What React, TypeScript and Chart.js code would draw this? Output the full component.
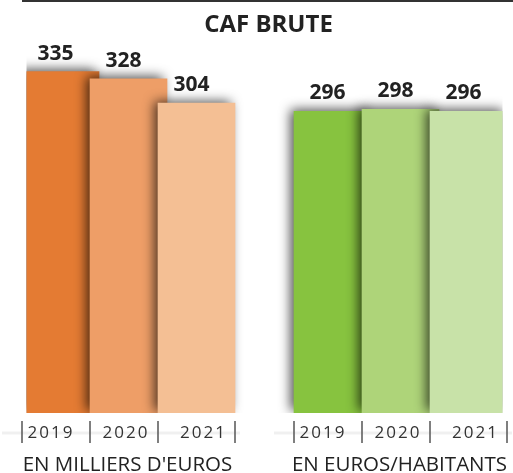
import React, { useEffect, useRef } from "react";
import { Chart, registerables } from "chart.js";

Chart.register(...registerables);

const title = "CAF BRUTE";
const years = ["2019", "2020", "2021"];
const milliersValues = [335, 328, 304];
const habitantsValues = [296, 298, 296];
const groupLabels = ["EN MILLIERS D'EUROS", "EN EUROS/HABITANTS"];
const orangeColors = ["#E47B33", "#EE9E67", "#F4BF94"];
const greenColors = ["#87C33F", "#AED479", "#C8E2A8"];

const FONT = "'Open Sans', 'DejaVu Sans', sans-serif";

const overlay = {
  id: "overlay",
  beforeDatasetsDraw(chart: any) {
    const ctx = chart.ctx;
    ctx.save();
    ctx.shadowColor = "rgba(0,0,0,0.7)";
    ctx.shadowBlur = 11;
    ctx.shadowOffsetX = -4;
    ctx.shadowOffsetY = -2;
  },
  afterDatasetsDraw(chart: any) {
    const ctx = chart.ctx;
    ctx.restore();
    const meta = chart.getDatasetMeta(0);
    const els = meta.data;
    const data = chart.data.datasets[0].data;
    ctx.save();
    // top rule
    ctx.strokeStyle = "#333";
    ctx.lineWidth = 2;
    ctx.beginPath();
    ctx.moveTo(22, 1);
    ctx.lineTo(513, 1);
    ctx.stroke();

    const left0 = els[0].x - els[0].width / 2;
    const rightN = els[els.length - 1].x + els[els.length - 1].width / 2;
    ctx.fillStyle = "#222";
    ctx.font = `bold 24px ${FONT}`;
    ctx.textAlign = "center";
    ctx.textBaseline = "alphabetic";
    ctx.fillText(title, (left0 + rightN) / 2 + 4, 32);

    // value labels
    ctx.font = `bold 21px ${FONT}`;
    els.forEach((el: any, i: number) => {
      const v = data[i];
      if (v == null) return;
      ctx.fillText(String(v), el.x - 5, el.y - 12);
    });

    // groups
    const groups = [
      [0, 1, 2],
      [4, 5, 6],
    ];
    const bottom = chart.chartArea.bottom;
    groups.forEach((g, gi) => {
      const a = els[g[0]];
      const b = els[g[2]];
      const gl = a.x - a.width / 2;
      const gr = b.x + b.width / 2;
      // faint line
      ctx.strokeStyle = "rgba(0,0,0,0.06)";
      ctx.lineWidth = 3;
      ctx.beginPath();
      ctx.moveTo(gl - 20, bottom + 20);
      ctx.lineTo(gr + 5, bottom + 20);
      ctx.stroke();
      // separators
      ctx.strokeStyle = "#555";
      ctx.lineWidth = 1.5;
      const seps = g.map((idx) => els[idx].x - els[idx].width / 2).concat([gr]);
      seps.forEach((sx) => {
        ctx.beginPath();
        ctx.moveTo(sx, bottom + 8);
        ctx.lineTo(sx, bottom + 30);
        ctx.stroke();
      });
      // year labels
      ctx.fillStyle = "#333";
      ctx.font = `17px ${FONT}`;
      (ctx as any).letterSpacing = "2px";
      ctx.textAlign = "center";
      const offs = [-5, 2, 7];
      g.forEach((idx, k) => {
        const mid = (seps[k] + seps[k + 1]) / 2;
        ctx.fillText(chart.data.labels[idx], mid + offs[k], bottom + 25);
      });
      (ctx as any).letterSpacing = "0px";
      // group label
      ctx.fillStyle = "#222";
      ctx.font = `20.5px ${FONT}`;
      ctx.fillText(groupLabels[gi], (gl + gr) / 2 - 1, bottom + 58);
    });
    ctx.restore();
  },
};

export default function App() {
  const ref = useRef<HTMLCanvasElement | null>(null);
  useEffect(() => {
    document.body.style.margin = "0";
    const labels = [...years, "", ...years];
    const values: (number | null)[] = [...milliersValues, null, ...habitantsValues];
    const colors = [...orangeColors, "rgba(0,0,0,0)", ...greenColors];
    const chart = new Chart(ref.current as HTMLCanvasElement, {
      type: "bar",
      data: {
        labels,
        datasets: [
          {
            data: values,
            backgroundColor: colors,
            borderWidth: 0,
            barThickness: 77,
          } as any,
        ],
      },
      options: {
        animation: false,
        responsive: false,
        layout: { padding: { left: 26.5, right: 10.5, top: 40, bottom: 60 } },
        plugins: {
          legend: { display: false },
          title: { display: false },
          tooltip: { enabled: false },
        },
        scales: {
          x: { display: false },
          y: { display: false, min: 0, max: 366 },
        },
      },
      plugins: [overlay],
    });
    return () => chart.destroy();
  }, []);
  return (
    <div style={{ width: 513, height: 473, background: "#fff" }}>
      <canvas ref={ref} width={513} height={473} style={{ display: "block" }} />
    </div>
  );
}
